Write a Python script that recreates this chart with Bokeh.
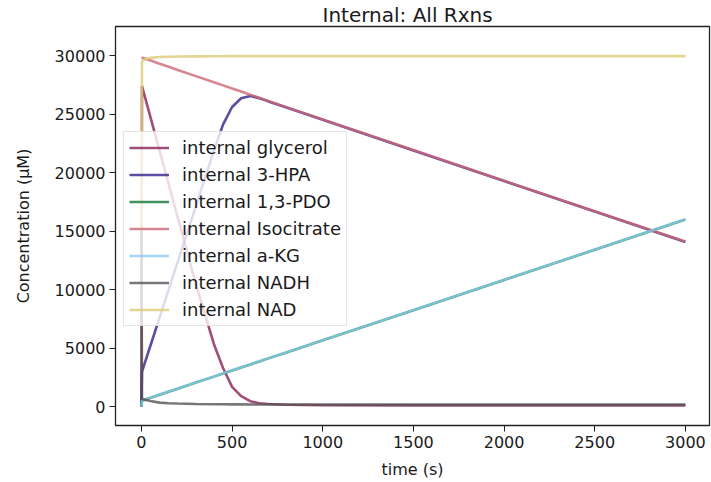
from bokeh.plotting import figure
from bokeh.models import Range1d, FixedTicker, Legend, LegendItem
from bokeh.embed import file_html
from bokeh.resources import INLINE

# ---- data ----
time_s = [0, 3, 10, 25, 50, 100, 150, 200, 300, 400, 450, 500, 550, 600,
          650, 700, 800, 1000, 1500, 2000, 2500, 3000]
glycerol = [0, 27400, 27000, 26150, 24720, 21870, 19020, 16170, 10470, 5330,
            3300, 1690, 900, 460, 290, 220, 160, 120, 100, 100, 100, 100]
hpa = [0, 2990, 3320, 4030, 5220, 7600, 9980, 12360, 17110, 21900, 24100,
       25600, 26350, 26550, 26350, 26080, 25560, 24510, 21890, 19270, 16670, 14070]
pdo = [0, 480, 540, 620, 750, 1010, 1270, 1530, 2050, 2560, 2820, 3080, 3340,
       3600, 3860, 4120, 4630, 5660, 8240, 10820, 13400, 15980]
isocitrate = [29830, 29815, 29780, 29700, 29570, 29300, 29040, 28770, 28240,
              27710, 27450, 27180, 26920, 26650, 26390, 26120, 25590, 24540,
              21920, 19300, 16700, 14100]
akg = [0, 500, 560, 640, 770, 1030, 1290, 1550, 2070, 2580, 2840, 3100, 3360,
       3620, 3880, 4140, 4650, 5680, 8260, 10840, 13420, 16000]
nadh = [15050, 650, 620, 560, 470, 340, 290, 260, 220, 200, 195, 190, 185,
        180, 178, 176, 174, 172, 170, 170, 170, 170]
nad = [15050, 29450, 29600, 29700, 29800, 29870, 29900, 29920, 29930, 29940,
       29940, 29945, 29945, 29950, 29950, 29950, 29950, 29950, 29950, 29950,
       29950, 29950]

series_names = ["internal glycerol", "internal 3-HPA", "internal 1,3-PDO",
                "internal Isocitrate", "internal a-KG", "internal NADH",
                "internal NAD"]
series_values = [glycerol, hpa, pdo, isocitrate, akg, nadh, nad]
series_colors = ["#882255", "#332288", "#117733", "#CC6677", "#88CCEE",
                 "#555555", "#DDCC77"]

x_ticks = [0, 500, 1000, 1500, 2000, 2500, 3000]
x_tick_labels = ["0", "500", "1000", "1500", "2000", "2500", "3000"]
y_ticks = [0, 5000, 10000, 15000, 20000, 25000, 30000]
y_tick_labels = ["0", "5000", "10000", "15000", "20000", "25000", "30000"]

FONT = "DejaVu Sans"

p = figure(width=711, height=482, output_backend="svg", toolbar_location=None,
           x_range=Range1d(-143, 3133), y_range=Range1d(-1616, 32480),
           title="Internal: All Rxns")
p.min_border_left = 115
p.min_border_right = 2
p.min_border_top = 24
p.min_border_bottom = 57

p.title.text_font = FONT
p.title.text_font_size = "20px"
p.title.text_font_style = "normal"
p.title.align = "left"
p.title.offset = 207
p.title.standoff = 0
p.title.text_color = "#1a1a1a"

p.grid.visible = False
p.outline_line_color = "#222222"
p.outline_line_width = 1.3
p.background_fill_color = "white"
p.border_fill_color = "white"

items = []
for name, vals, col in zip(series_names, series_values, series_colors):
    r = p.line(time_s, vals, line_color=col, line_width=2.6, line_alpha=0.8)
    items.append(LegendItem(label=name, renderers=[r]))

for ax, ticks, labels, lab, stand in ((p.xaxis[0], x_ticks, x_tick_labels, "time (s)", 9),
                                      (p.yaxis[0], y_ticks, y_tick_labels, "Concentration (μM)", 19)):
    ax.ticker = FixedTicker(ticks=ticks)
    ax.major_label_overrides = {t: l for t, l in zip(ticks, labels)}
    ax.axis_label = lab
    ax.axis_label_text_font = FONT
    ax.axis_label_text_font_size = "16px"
    ax.axis_label_text_font_style = "normal"
    ax.axis_label_text_color = "#1a1a1a"
    ax.major_label_text_font = FONT
    ax.major_label_text_font_size = "16px"
    ax.major_label_text_color = "#1a1a1a"
    ax.major_tick_out = 6
    ax.major_tick_in = 0
    ax.minor_tick_out = 0
    ax.minor_tick_in = 0
    ax.axis_line_color = "#222222"
    ax.major_tick_line_color = "#222222"
    ax.major_label_standoff = 4
    ax.axis_label_standoff = stand

legend = Legend(items=items, location=(8, 99))
legend.margin = 0
legend.padding = 5
legend.spacing = 6
legend.glyph_width = 40
legend.glyph_height = 21
legend.label_height = 21
legend.label_standoff = 13
legend.label_text_font = FONT
legend.label_text_font_size = "18px"
legend.label_text_color = "#1a1a1a"
legend.border_line_color = "#cccccc"
legend.border_line_width = 1
legend.background_fill_alpha = 0.8
p.add_layout(legend)

open("out.html", "w").write(file_html(p, INLINE))
